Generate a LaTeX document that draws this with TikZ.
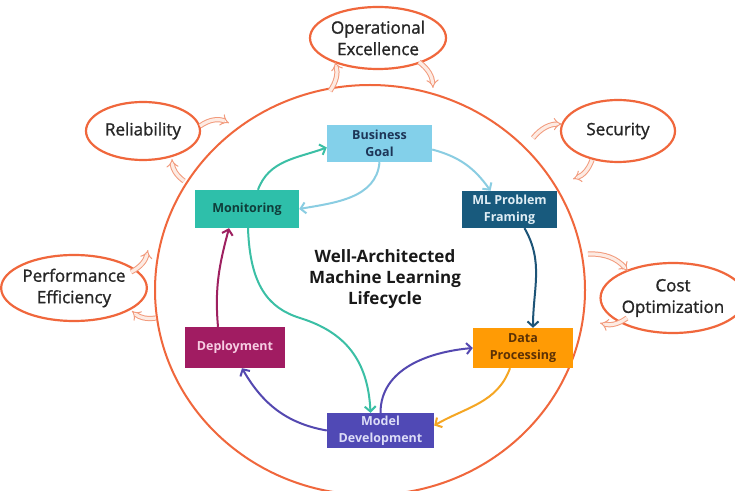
\documentclass[tikz,border=0pt]{standalone}
\usepackage{fontspec}
\setmainfont{Open Sans}
\newfontface\pilfont[FakeBold=1.2]{Open Sans}
\usetikzlibrary{arrows.meta,shapes.geometric}
\definecolor{ringc}{HTML}{F0673C}
\definecolor{pilc}{HTML}{F29A7C}
\definecolor{pilin}{HTML}{FDEBE3}
\definecolor{txtc}{HTML}{262626}
\definecolor{bgc}{HTML}{83D0EA}
\definecolor{bgt}{HTML}{1D3557}
\definecolor{monc}{HTML}{2EBFAA}
\definecolor{mont}{HTML}{0F3D3A}
\definecolor{mlpc}{HTML}{185A7D}
\definecolor{mlpt}{HTML}{E0EEF5}
\definecolor{dpc}{HTML}{FF9B05}
\definecolor{dpt}{HTML}{5B3105}
\definecolor{depc}{HTML}{A11C62}
\definecolor{dept}{HTML}{F6CDE2}
\definecolor{mdc}{HTML}{5049B5}
\definecolor{mdt}{HTML}{DCDCF7}
\definecolor{tealar}{HTML}{3BBFA5}
\definecolor{bluear}{HTML}{8ACDE2}
\definecolor{navyar}{HTML}{1D5477}
\definecolor{orar}{HTML}{F5A623}
\definecolor{purar}{HTML}{5448B0}
\definecolor{magar}{HTML}{9E2060}
\begin{document}
\begin{tikzpicture}[x=1pt,y=1pt,
  pillar/.style={ellipse, draw=ringc, line width=2.2pt, inner sep=0pt, align=center,
    font=\pilfont\fontsize{17}{21.5}\selectfont, text=txtc},
  stagebox/.style={rectangle, inner sep=0pt, align=center,
    font=\bfseries\fontsize{12.5}{17}\selectfont},
  flow/.style={line width=2pt, -{Straight Barb[length=5pt,width=11pt]}},
  pil/.style={draw=pilc, line width=1pt, double=pilin, double distance=3.2pt, -{Implies}}]
\useasboundingbox (0,0) rectangle (735,490);
\fill[white] (0,0) rectangle (735,490);

% big ring
\node (ring) [ellipse, draw=ringc, line width=2pt, minimum width=430pt, minimum height=410pt, inner sep=0pt] at (370,200) {};

% pillars
\node (oe) [pillar, minimum width=136pt, minimum height=62pt] at (378,452) {Operational\\Excellence};
\node (rel) [pillar, minimum width=114pt, minimum height=58pt] at (143,359) {Reliability};
\node (sec) [pillar, minimum width=114pt, minimum height=62pt] at (618,359) {Security};
\node (perf) [pillar, minimum width=124pt, minimum height=66pt] at (74,202) {Performance\\Efficiency};
\node (cost) [pillar, minimum width=122pt, minimum height=70pt] at (673,192) {Cost\\Optimization};

% pillar arrows
\coordinate (oeA) at (330,399);
\coordinate (oeB) at (335,428);
\coordinate (oeC) at (419,428);
\coordinate (oeD) at (433,402);
\draw[pil] (oeA) to[bend right=25] (oeB);
\draw[pil] (oeC) to[bend left=25] (oeD);
\coordinate (relA) at (200,364);
\coordinate (relB) at (229,367);
\coordinate (relC) at (184,309);
\coordinate (relD) at (172,331);
\draw[pil] (relA) to[bend left=30] (relB);
\draw[pil] (relC) to[bend left=25] (relD);
\coordinate (secA) at (533,352);
\coordinate (secB) at (562,366);
\coordinate (secC) at (592,330);
\coordinate (secD) at (573,311);
\draw[pil] (secA) to[bend left=25] (secB);
\draw[pil] (secC) to[bend left=25] (secD);
\coordinate (perfA) at (131,218);
\coordinate (perfB) at (148,240);
\coordinate (perfC) at (156,172);
\coordinate (perfD) at (132,179);
\draw[pil] (perfA) to[bend right=25] (perfB);
\draw[pil] (perfC) to[bend left=25] (perfD);
\coordinate (costA) at (588,236);
\coordinate (costB) at (628,219);
\coordinate (costC) at (627,172);
\coordinate (costD) at (600,167);
\draw[pil] (costA) to[bend left=25] (costB);
\draw[pil] (costC) to[bend left=25] (costD);

% stages
\node (bg) [stagebox, fill=bgc, text=bgt, minimum width=105pt, minimum height=37pt] at (379.5,346.5) {Business\\Goal};
\node (mon) [stagebox, fill=monc, text=mont, minimum width=104pt, minimum height=38pt] at (247,281) {Monitoring};
\node (mlp) [stagebox, fill=mlpc, text=mlpt, minimum width=95pt, minimum height=37pt] at (509.5,280.5) {ML Problem\\Framing};
\node (dp) [stagebox, fill=dpc, text=dpt, minimum width=100pt, minimum height=40pt] at (523,142) {Data\\Processing};
\node (dep) [stagebox, fill=depc, text=dept, minimum width=100pt, minimum height=41pt] at (235,142.5) {Deployment};
\node (md) [stagebox, fill=mdc, text=mdt, minimum width=107pt, minimum height=35pt] at (380.5,59.5) {Model\\Development};

\node (title) [align=center, font=\bfseries\fontsize{17}{21}\selectfont, text=black!90] at (385,211) {Well-Architected\\Machine Learning\\Lifecycle};

% cycle arrows
\draw[flow, tealar] ([xshift=11pt]mon.north) to[out=70, in=200] ([yshift=-4pt]bg.west);
\draw[flow, bluear] (bg.south) to[out=-95, in=10] (mon.east);
\draw[flow, bluear] ([yshift=-6pt]bg.east) to[out=-15, in=125] ([xshift=-19pt]mlp.north);
\draw[flow, navyar] ([xshift=15pt]mlp.south) to[out=-60, in=90] ([xshift=10pt]dp.north);
\draw[flow, orar] ([xshift=-13pt]dp.south) to[out=-110, in=30] ([yshift=5pt]md.east);
\draw[flow, purar] (md.north) to[out=90, in=185] (dp.west);
\draw[flow, purar] (md.west) to[out=170, in=-60] ([xshift=7pt]dep.south);
\draw[flow, magar] ([xshift=-17pt]dep.north) to[out=95, in=-105] ([xshift=-18pt]mon.south);
\draw[flow, tealar] ([xshift=1pt]mon.south) .. controls (250,205) and (268,182) .. (300,172) .. controls (345,158) and (368,130) .. ([xshift=-10pt]md.north);
\end{tikzpicture}
\end{document}
